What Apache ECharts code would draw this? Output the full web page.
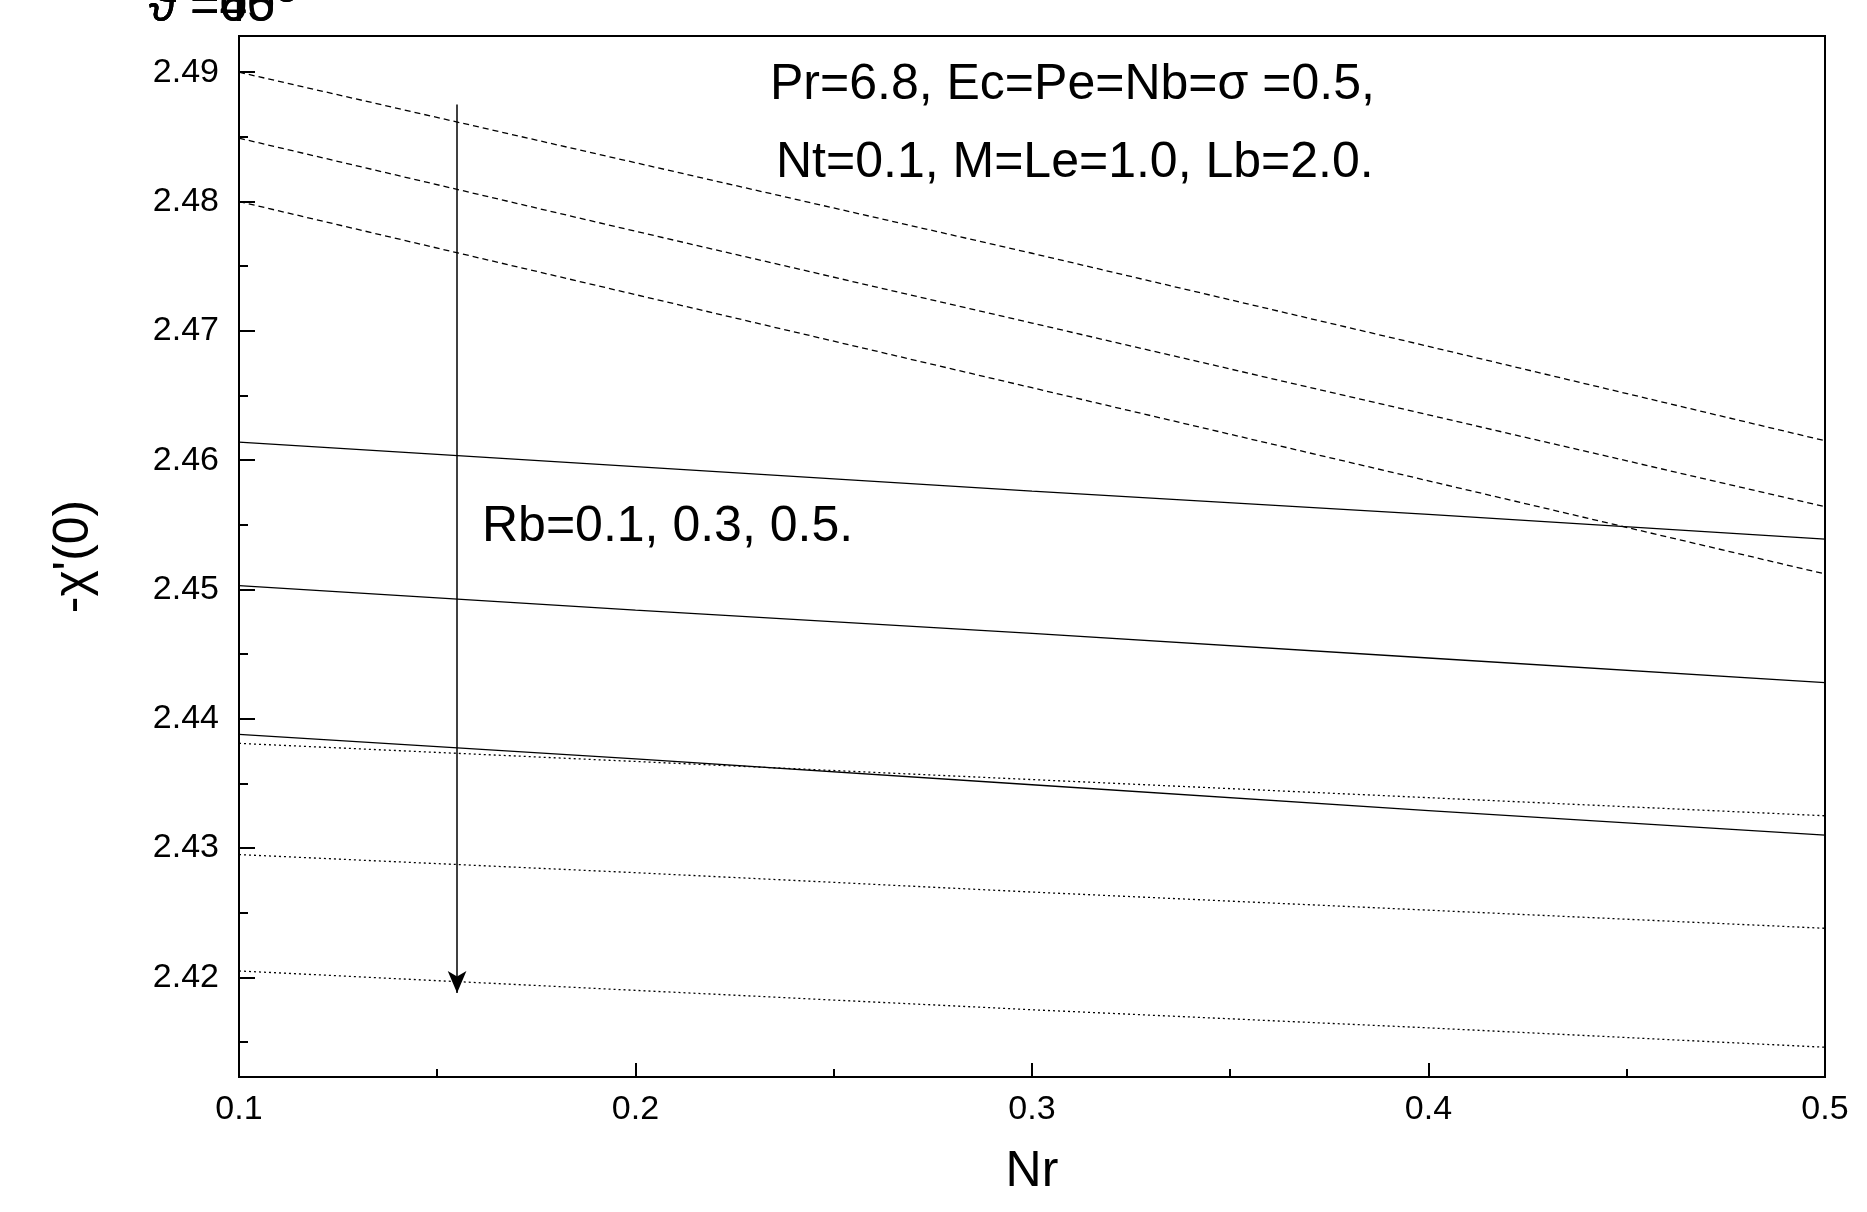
<!DOCTYPE html>
<html style="height:100%;width:100%">
<head><meta charset="utf-8"></head>
<body style="height:100%;width:100%;margin:0;background:#fff">
<div id="chart-panel" style="height:1212px;width:1867px"></div>
<script src="https://cdn.jsdelivr.net/npm/echarts@6/dist/echarts.min.js"></script>
<script>
var nr = [0.1, 0.2, 0.3, 0.4, 0.5];
// theta = 60 deg, Rb = 0.1, 0.3, 0.5
var t60a = [2.4900, 2.4830, 2.4760, 2.4688, 2.4615];
var t60b = [2.4849, 2.4777, 2.4706, 2.4635, 2.4564];
var t60c = [2.4800, 2.4728, 2.4656, 2.4584, 2.4512];
// theta = 45 deg
var t45a = [2.4614, 2.4595, 2.4576, 2.4558, 2.4539];
var t45b = [2.4503, 2.4484, 2.4466, 2.4447, 2.4428];
var t45c = [2.4388, 2.4369, 2.4349, 2.4329, 2.4310];
// theta = 0 deg
var t0a = [2.4381, 2.4367, 2.4353, 2.4339, 2.4325];
var t0b = [2.4295, 2.4281, 2.4266, 2.4252, 2.4238];
var t0c = [2.4205, 2.4190, 2.4175, 2.4161, 2.4146];
var yTicks = [2.42, 2.43, 2.44, 2.45, 2.46, 2.47, 2.48, 2.49];
var yMinor = [2.415, 2.425, 2.435, 2.445, 2.455, 2.465, 2.475, 2.485];
var xTicks = [0.1, 0.2, 0.3, 0.4, 0.5];
var xMinor = [0.15, 0.25, 0.35, 0.45];

var font = "'Liberation Sans Narrow', 'Liberation Sans', Arial, sans-serif";
function pts(arr) { return nr.map(function (x, i) { return [x, arr[i]]; }); }
function mk(name, arr, type) {
	return { name: name, type: 'line', data: pts(arr), symbol: 'none', silent: true,
		itemStyle: { color: '#000' },
		lineStyle: { color: '#000', width: 1.3, type: type } };
}
var chart = echarts.init(document.getElementById('chart-panel'));
var option = {
	backgroundColor: '#fff',
	animation: false,
	grid: { left: 239, right: 42, top: 36, bottom: 135, show: true, borderColor: '#000', borderWidth: 2 },
	legend: {
		right: 62, top: 92, orient: 'vertical', itemWidth: 128, itemHeight: 14, itemGap: 36,
		icon: 'path://M0,0', itemStyle: { opacity: 0 },
		data: ['60', '45', '0'],
		formatter: function (n) { return '{a|ϑ =' + n + '}{s|O}'; },
		textStyle: { rich: {
			a: { fontFamily: font, fontSize: 50, color: '#000', padding: [0, 0, 0, 16] },
			s: { fontFamily: font, fontSize: 30, color: '#000', verticalAlign: 'top', padding: [0, 0, 26, 0] }
		} }
	},
	xAxis: [{
		type: 'value', min: 0.1, max: 0.5,
		name: 'Nr', nameLocation: 'middle', nameGap: 70,
		nameTextStyle: { fontFamily: font, fontSize: 50, color: '#000' },
		axisLine: { lineStyle: { color: '#000', width: 2 } },
		axisTick: { inside: true, length: 14, lineStyle: { color: '#000', width: 2 }, customValues: xTicks },
		axisLabel: { fontFamily: font, fontSize: 34, color: '#000', margin: 16, customValues: xTicks,
			formatter: function (v) { return v.toFixed(1); } },
		splitLine: { show: false }
	}, {
		type: 'value', min: 0.1, max: 0.5, position: 'bottom',
		axisLine: { show: false }, axisLabel: { show: false }, splitLine: { show: false },
		axisTick: { inside: true, length: 8, lineStyle: { color: '#000', width: 2 }, customValues: xMinor }
	}],
	yAxis: [{
		type: 'value', min: 2.4123, max: 2.4928,
		name: "-χ'(0)", nameLocation: 'middle', nameGap: 140,
		nameTextStyle: { fontFamily: font, fontSize: 50, color: '#000' },
		axisLine: { lineStyle: { color: '#000', width: 2 } },
		axisTick: { inside: true, length: 16, lineStyle: { color: '#000', width: 2 }, customValues: yTicks },
		axisLabel: { fontFamily: font, fontSize: 34, color: '#000', margin: 20, customValues: yTicks,
			formatter: function (v) { return v.toFixed(2); } },
		splitLine: { show: false }
	}, {
		type: 'value', min: 2.4123, max: 2.4928, position: 'left',
		axisLine: { show: false }, axisLabel: { show: false }, splitLine: { show: false },
		axisTick: { inside: true, length: 9, lineStyle: { color: '#000', width: 2 }, customValues: yMinor }
	}],
	series: [
		mk('60', t60a, [6, 4]), mk('60', t60b, [6, 4]), mk('60', t60c, [6, 4]),
		mk('45', t45a, 'solid'), mk('45', t45b, 'solid'), mk('45', t45c, 'solid'),
		mk('0', t0a, [2, 3]), mk('0', t0b, [2, 3]), mk('0', t0c, [2, 3]),
		{
			type: 'line', data: [], silent: true,
			markLine: {
				silent: true, symbol: ['none', 'arrow'], symbolSize: [14, 22], label: { show: false },
				lineStyle: { color: '#000', width: 1.5, type: 'solid' },
				data: [[{ coord: [0.155, 2.4875] }, { coord: [0.155, 2.4188] }]]
			}
		}
	],
	graphic: [
		{ type: 'text', left: 770, top: 60, style: { text: 'Pr=6.8, Ec=Pe=Nb=σ =0.5,', font: '50px ' + font, fill: '#000' } },
		{ type: 'text', left: 776, top: 138, style: { text: 'Nt=0.1, M=Le=1.0, Lb=2.0.', font: '50px ' + font, fill: '#000' } },
		{ type: 'text', left: 482, top: 502, style: { text: 'Rb=0.1, 0.3, 0.5.', font: '50px ' + font, fill: '#000' } }
	]
};
chart.setOption(option);
</script>
</body>
</html>
